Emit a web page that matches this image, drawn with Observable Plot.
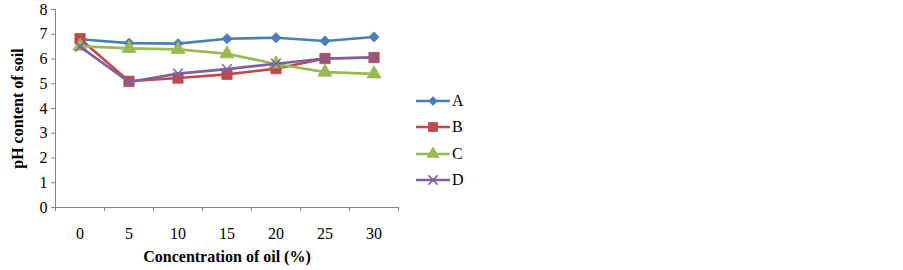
<!DOCTYPE html>
<html><head><meta charset="utf-8">
<script src="https://cdn.jsdelivr.net/npm/d3@7"></script>
<script src="https://cdn.jsdelivr.net/npm/@observablehq/plot@0.6"></script>
<style>
body{margin:0;background:#fff;font-family:"Liberation Serif",serif;}
#wrap{position:relative;width:903px;height:270px;}
#legend{position:absolute;left:416px;top:88px;font-size:16px;color:#000;}
#legend div{height:26.3px;display:flex;align-items:center;}
#legend span{margin-left:2px;}
</style></head>
<body><div id="wrap"><div id="chart"></div><div id="legend"></div></div>
<script>
const concentrations = [0, 5, 10, 15, 20, 25, 30];
const seriesNames = ["A", "B", "C", "D"];
const valuesA = [6.80, 6.64, 6.62, 6.82, 6.86, 6.73, 6.89];
const valuesB = [6.82, 5.10, 5.23, 5.38, 5.61, 6.02, 6.06];
const valuesC = [6.52, 6.43, 6.39, 6.21, 5.80, 5.47, 5.40];
const valuesD = [6.50, 5.07, 5.41, 5.59, 5.81, 6.02, 6.06];
const yTicks = [0, 1, 2, 3, 4, 5, 6, 7, 8];

const colors = ["#4a7ebb", "#be4b48", "#98b954", "#7d60a0"];
const symbols = [d3.symbolDiamond2, d3.symbolSquare, d3.symbolTriangle, d3.symbolTimes];
const symbolR = [4.6, 5.8, 5.2, 4.5];
const all = [valuesA, valuesB, valuesC, valuesD];
const data = [];
seriesNames.forEach((s, i) => concentrations.forEach((c, j) => data.push({series: s, x: c, y: all[i][j]})));
const step = concentrations[1] - concentrations[0];
const edges = [...concentrations.map(c => c - step / 2), concentrations[concentrations.length - 1] + step / 2];

const marks = [
  Plot.ruleY([0], {stroke: "#868686", strokeWidth: 1}),
  Plot.ruleX([edges[0]], {stroke: "#868686", strokeWidth: 1}),
  Plot.axisX({ticks: concentrations, tickSize: 0, tickPadding: 20, fontSize: 16, label: null}),
  Plot.axisX(edges, {tickSize: 4, tickFormat: () => "", stroke: "#868686", label: null}),
  Plot.axisY({ticks: yTicks, tickSize: 4, tickPadding: 4, fontSize: 16, label: null, stroke: "#868686"}),
];
seriesNames.forEach((s, i) => {
  const d = data.filter(r => r.series === s);
  marks.push(Plot.line(d, {x: "x", y: "y", stroke: colors[i], strokeWidth: 2.6}));
  if (i === 3) {
    marks.push(Plot.dot(d, {x: "x", y: "y", symbol: symbols[i], r: symbolR[i], fill: "none", stroke: colors[i], strokeWidth: 1.5}));
  } else {
    marks.push(Plot.dot(d, {x: "x", y: "y", symbol: symbols[i], r: symbolR[i], fill: colors[i], stroke: colors[i], strokeWidth: 0.8}));
  }
});
marks.push(Plot.text(["Concentration of oil (%)"], {frameAnchor: "bottom", dy: 54, fontWeight: "bold", fontSize: 16, text: d => d}));
marks.push(Plot.text(["pH content of soil"], {frameAnchor: "left", textAnchor: "middle", dx: -38, rotate: -90, fontWeight: "bold", fontSize: 16, text: d => d}));

const chart = Plot.plot({
  width: 903, height: 270,
  marginLeft: 55, marginRight: 505, marginTop: 9, marginBottom: 63,
  style: {fontFamily: "Liberation Serif, serif", fontSize: "16px", color: "#000", background: "#fff"},
  x: {type: "linear", domain: [edges[0], edges[edges.length - 1]]},
  y: {domain: [0, 8]},
  marks
});
document.getElementById("chart").appendChild(chart);

const legend = d3.select("#legend");
seriesNames.forEach((s, i) => {
  const row = legend.append("div");
  const svg = row.append("svg").attr("width", 34).attr("height", 14);
  svg.append("line").attr("x1", 0).attr("x2", 34).attr("y1", 7).attr("y2", 7).attr("stroke", colors[i]).attr("stroke-width", 2.6);
  const p = svg.append("path").attr("transform", "translate(17,7)").attr("d", d3.symbol(symbols[i], Math.PI * symbolR[i] * symbolR[i] * 0.9)());
  if (i === 3) p.attr("fill", "none").attr("stroke", colors[i]).attr("stroke-width", 1.5);
  else p.attr("fill", colors[i]);
  row.append("span").text(s);
});
</script></body></html>
